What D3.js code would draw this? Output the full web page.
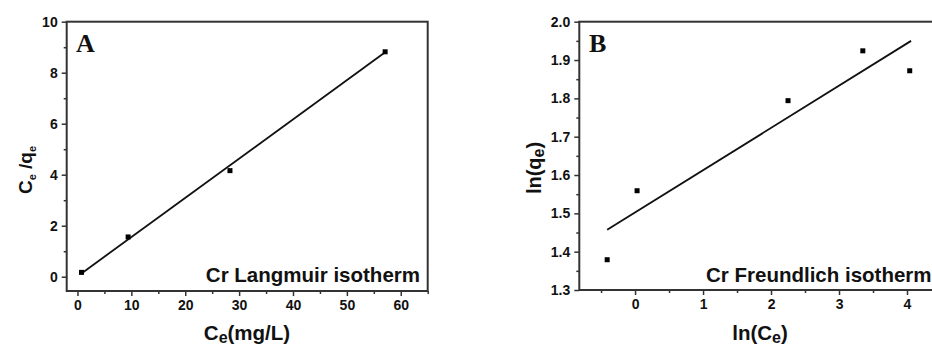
<!DOCTYPE html>
<html><head><meta charset="utf-8">
<script src="https://cdn.jsdelivr.net/npm/d3@7"></script>
<style>
html,body{margin:0;padding:0;background:#fff;}
svg{display:block;}
svg text{font-family:"Liberation Sans",Arial,Helvetica,sans-serif !important;font-weight:700 !important;fill:#111;}
svg text.serif{font-family:"Liberation Serif","Times New Roman",serif !important;}
</style></head>
<body>
<svg id="c" width="932" height="345"></svg>
<script>
// Panel A: Langmuir
const langCe = [0.75, 9.4, 28.3, 57.1];
const langCeQe = [0.17, 1.56, 4.16, 8.82];
const langFitX = [0.74, 57.1];
const langFitY = [0.13, 8.8];
const langXTicks = [0, 10, 20, 30, 40, 50, 60];
const langXMinor = [5, 15, 25, 35, 45, 55, 65];
const langYTicks = [0, 2, 4, 6, 8, 10];
const langYMinor = [1, 3, 5, 7, 9];

// Panel B: Freundlich
const frLnCe = [-0.41, 0.03, 2.25, 3.35, 4.04];
const frLnQe = [1.379, 1.559, 1.794, 1.924, 1.872];
const frFitX = [-0.41, 4.06];
const frFitY = [1.457, 1.950];
const frXTicks = [0, 1, 2, 3, 4];
const frXMinor = [-0.5, 0.5, 1.5, 2.5, 3.5];
const frYTicks = [1.3, 1.4, 1.5, 1.6, 1.7, 1.8, 1.9, 2.0];
const frYMinor = [1.35, 1.45, 1.55, 1.65, 1.75, 1.85, 1.95];

const svg = d3.select("#c");
const frameColor = "#333";

function panel(cfg){
  const g = svg.append("g");
  const x = d3.scaleLinear().domain(cfg.xDomain).range(cfg.xRange);
  const y = d3.scaleLinear().domain(cfg.yDomain).range(cfg.yRange);
  g.append("rect")
    .attr("x", cfg.xRange[0]).attr("y", cfg.yRange[1])
    .attr("width", cfg.xRange[1]-cfg.xRange[0])
    .attr("height", cfg.yRange[0]-cfg.yRange[1])
    .attr("fill","none").attr("stroke",frameColor).attr("stroke-width",2);
  const xa = g.append("g").attr("transform",`translate(0,${cfg.yRange[0]})`)
    .call(d3.axisBottom(x).tickValues(cfg.xTicks).tickSize(5).tickPadding(4).tickFormat(cfg.xFmt));
  const xm = g.append("g").attr("transform",`translate(0,${cfg.yRange[0]})`)
    .call(d3.axisBottom(x).tickValues(cfg.xMinor).tickSize(3).tickFormat(""));
  const ya = g.append("g").attr("transform",`translate(${cfg.xRange[0]},0)`)
    .call(d3.axisLeft(y).tickValues(cfg.yTicks).tickSize(5).tickPadding(4).tickFormat(cfg.yFmt));
  const ym = g.append("g").attr("transform",`translate(${cfg.xRange[0]},0)`)
    .call(d3.axisLeft(y).tickValues(cfg.yMinor).tickSize(3).tickFormat(""));
  [xa,xm,ya,ym].forEach(a=>{
    a.attr("font-family",null).attr("font-size",14);
    a.select(".domain").remove();
    a.selectAll(".tick line").attr("stroke",frameColor).attr("stroke-width",1.5);
    a.selectAll(".tick text").attr("font-size",14).attr("fill","#111");
  });
  g.append("line")
    .attr("x1",x(cfg.fitX[0])).attr("y1",y(cfg.fitY[0]))
    .attr("x2",x(cfg.fitX[1])).attr("y2",y(cfg.fitY[1]))
    .attr("stroke","#111").attr("stroke-width",1.8);
  g.selectAll("rect.pt").data(cfg.px.map((v,i)=>[v,cfg.py[i]])).enter()
    .append("rect").attr("class","pt")
    .attr("x",d=>x(d[0])-2.5).attr("y",d=>y(d[1])-2.5)
    .attr("width",5).attr("height",5).attr("fill","#000");
  g.append("text").attr("class","serif").attr("x",cfg.letterX).attr("y",52)
    .attr("font-size",26).text(cfg.letter);
  g.append("text").attr("x",cfg.labelX).attr("y",282)
    .attr("text-anchor",cfg.labelAnchor).attr("font-size",20.5).text(cfg.label);
  return {g,x,y};
}

panel({
  xDomain:[-2,65], xRange:[66.7,427.7], yDomain:[-0.56,10], yRange:[291,21.7],
  xTicks:langXTicks, xMinor:langXMinor, yTicks:langYTicks, yMinor:langYMinor,
  xFmt:d3.format("d"), yFmt:d3.format("d"),
  fitX:langFitX, fitY:langFitY, px:langCe, py:langCeQe,
  letter:"A", letterX:76, label:"Cr Langmuir isotherm", labelX:420, labelAnchor:"end"
});
panel({
  xDomain:[-0.82,4.5], xRange:[579.3,941], yDomain:[1.3,2.0], yRange:[290,21.7],
  xTicks:frXTicks, xMinor:frXMinor, yTicks:frYTicks, yMinor:frYMinor,
  xFmt:d3.format("d"), yFmt:d3.format(".1f"),
  fitX:frFitX, fitY:frFitY, px:frLnCe, py:frLnQe,
  letter:"B", letterX:589, label:"Cr Freundlich isotherm", labelX:706, labelAnchor:"start"
});

const tA = svg.append("text").attr("x",247).attr("y",340).attr("text-anchor","middle").attr("font-size",20.5);
tA.append("tspan").text("C");
tA.append("tspan").attr("font-size",16).attr("dy",3).text("e");
tA.append("tspan").attr("dy",-3).text("(mg/L)");

const yA = svg.append("text").attr("transform","translate(32,170) rotate(-90)")
  .attr("text-anchor","middle").attr("font-size",19);
yA.append("tspan").text("C");
yA.append("tspan").attr("font-size",11).attr("dy",4).text("e");
yA.append("tspan").attr("dy",-4).text(" /q");
yA.append("tspan").attr("font-size",11).attr("dy",4).text("e");

const tB = svg.append("text").attr("x",760).attr("y",340).attr("text-anchor","middle").attr("font-size",20.5);
tB.append("tspan").text("ln(C");
tB.append("tspan").attr("font-size",16).attr("dy",3).text("e");
tB.append("tspan").attr("dy",-3).text(")");

const yB = svg.append("text").attr("transform","translate(541,168) rotate(-90)")
  .attr("text-anchor","middle").attr("font-size",20);
yB.append("tspan").text("ln(q");
yB.append("tspan").attr("font-size",16).attr("dy",3).text("e");
yB.append("tspan").attr("dy",-3).text(")");
</script>
</body></html>
